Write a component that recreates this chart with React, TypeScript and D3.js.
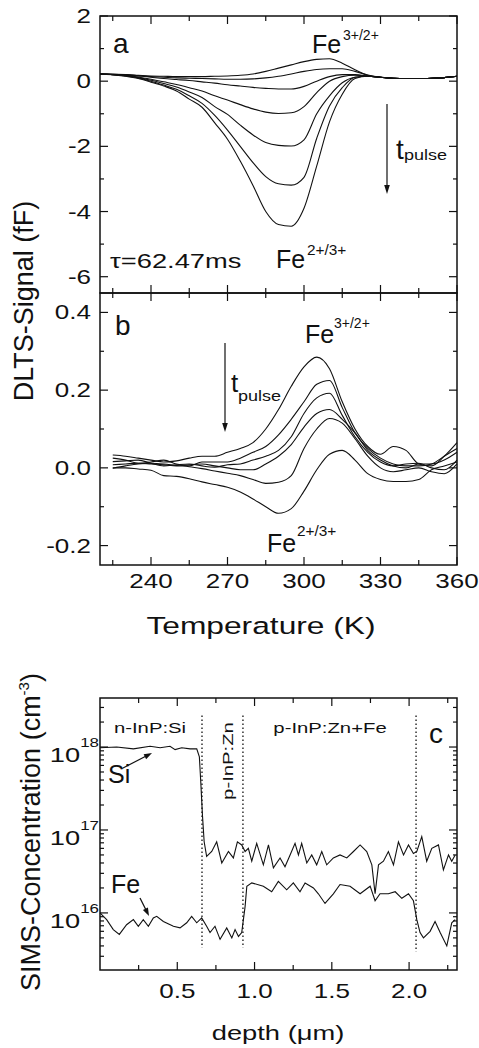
import React from 'react';
import * as d3 from 'd3';

const FONT = "'Liberation Sans', Arial, Helvetica, sans-serif";
const INK = '#111';

// ---------- Panel a : DLTS signal (fF) vs temperature ----------
const tempA = [220, 225, 230, 235, 240, 245, 250, 255, 260, 265, 270, 275, 280, 285, 290, 295, 300, 305, 310, 315, 320, 325, 330, 335, 340, 345, 350, 355, 360];
const sigA1 = [0.22, 0.21, 0.2, 0.18, 0.16, 0.15, 0.14, 0.14, 0.14, 0.15, 0.16, 0.18, 0.22, 0.3, 0.4, 0.5, 0.6, 0.67, 0.69, 0.55, 0.35, 0.18, 0.12, 0.09, 0.08, 0.08, 0.09, 0.11, 0.15];
const sigA2 = [0.22, 0.21, 0.2, 0.17, 0.14, 0.12, 0.1, 0.09, 0.08, 0.07, 0.06, 0.06, 0.07, 0.1, 0.15, 0.22, 0.3, 0.36, 0.38, 0.38, 0.3, 0.19, 0.12, 0.09, 0.08, 0.08, 0.09, 0.11, 0.15];
const sigA3 = [0.22, 0.21, 0.19, 0.16, 0.12, 0.08, 0.05, 0.02, -0.02, -0.06, -0.11, -0.15, -0.19, -0.22, -0.24, -0.24, -0.16, 0.0, 0.14, 0.2, 0.2, 0.16, 0.12, 0.09, 0.08, 0.08, 0.09, 0.11, 0.15];
const sigA4 = [0.22, 0.2, 0.18, 0.13, 0.06, -0.02, -0.1, -0.2, -0.3, -0.45, -0.58, -0.72, -0.85, -0.95, -0.99, -0.97, -0.78, -0.35, 0.0, 0.14, 0.18, 0.16, 0.12, 0.09, 0.08, 0.08, 0.09, 0.11, 0.15];
const sigA5 = [0.22, 0.2, 0.17, 0.11, 0.03, -0.07, -0.18, -0.33, -0.5, -0.78, -1.02, -1.35, -1.65, -1.88, -1.97, -1.99, -1.8, -1.0, -0.45, -0.05, 0.12, 0.15, 0.12, 0.09, 0.08, 0.08, 0.09, 0.11, 0.15];
const sigA6 = [0.22, 0.2, 0.16, 0.1, 0.0, -0.12, -0.25, -0.45, -0.68, -1.05, -1.5, -2.0, -2.5, -2.93, -3.15, -3.19, -2.95, -1.75, -0.76, -0.2, 0.12, 0.15, 0.12, 0.09, 0.08, 0.08, 0.09, 0.11, 0.15];
const sigA7 = [0.22, 0.2, 0.15, 0.08, -0.03, -0.15, -0.3, -0.55, -0.8, -1.28, -1.78, -2.45, -3.2, -4.0, -4.4, -4.45, -3.9, -2.6, -1.25, -0.4, 0.08, 0.15, 0.12, 0.09, 0.08, 0.08, 0.09, 0.11, 0.15];
const seriesA = [sigA1, sigA2, sigA3, sigA4, sigA5, sigA6, sigA7];
const tickLabelsA = [2, 0, -2, -4, -6];

// ---------- Panel b ----------
const tempB = [225, 230, 235, 240, 245, 250, 255, 260, 265, 270, 275, 280, 285, 290, 295, 300, 305, 310, 315, 320, 325, 330, 335, 340, 345, 350, 355, 360];
const sigB1 = [0.033, 0.03, 0.025, 0.02, 0.015, 0.018, 0.025, 0.03, 0.03, 0.04, 0.05, 0.065, 0.1, 0.15, 0.21, 0.26, 0.285, 0.255, 0.17, 0.1, 0.055, 0.035, 0.055, 0.045, 0.01, 0.005, 0.03, 0.065];
const sigB2 = [0.025, 0.02, 0.012, 0.015, 0.02, 0.01, 0.005, 0.015, 0.015, 0.015, 0.025, 0.04, 0.055, 0.085, 0.125, 0.17, 0.215, 0.225, 0.155, 0.09, 0.05, 0.025, 0.01, 0.005, 0.005, 0.01, 0.03, 0.05];
const sigB3 = [0.016, 0.018, 0.02, 0.012, 0.005, 0.008, 0.01, 0.005, 0.002, 0.008, 0.01, 0.02, 0.03, 0.045, 0.08, 0.14, 0.18, 0.192, 0.135, 0.08, 0.04, 0.015, 0.005, 0.01, 0.012, 0.0, -0.005, 0.02];
const sigB4 = [0.008, 0.01, 0.012, 0.01, 0.008, 0.005, 0.008, 0.01, 0.005, 0.0, -0.005, -0.005, 0.01, 0.03, 0.06, 0.105, 0.14, 0.15, 0.125, 0.09, 0.045, 0.02, 0.005, 0.0, 0.01, 0.01, 0.02, 0.04];
const sigB5 = [-0.001, 0.005, 0.01, 0.012, 0.01, 0.006, 0.003, -0.002, -0.008, -0.014, -0.02, -0.03, -0.04, -0.037, -0.02, 0.05, 0.1, 0.127, 0.115, 0.075, 0.03, 0.0, -0.01, -0.005, 0.0, -0.01, -0.015, 0.01];
const sigB6 = [0.0, 0.0, -0.003, -0.006, -0.02, -0.022, -0.028, -0.036, -0.043, -0.05, -0.062, -0.08, -0.1, -0.117, -0.105, -0.06, -0.005, 0.035, 0.045, 0.02, -0.015, -0.03, -0.035, -0.035, -0.03, -0.005, 0.005, 0.015];
const seriesB = [sigB1, sigB2, sigB3, sigB4, sigB5, sigB6];
const tickLabelsB = [0.4, 0.2, 0.0, -0.2];
const tickLabelsT = [240, 270, 300, 330, 360];

// ---------- Panel c : SIMS depth profile ----------
const depthSi = [0, 0.108, 0.216, 0.324, 0.389, 0.453, 0.486, 0.529, 0.583, 0.626, 0.643, 0.652, 0.663, 0.674, 0.69, 0.723, 0.755, 0.788, 0.831, 0.863, 0.889, 0.917, 0.939, 0.96, 0.982, 1.014, 1.057, 1.09, 1.122, 1.165, 1.197, 1.23, 1.262, 1.284, 1.305, 1.338, 1.37, 1.402, 1.435, 1.467, 1.51, 1.553, 1.597, 1.64, 1.683, 1.726, 1.759, 1.78, 1.802, 1.834, 1.866, 1.899, 1.931, 1.964, 1.996, 2.028, 2.05, 2.082, 2.114, 2.147, 2.19, 2.222, 2.255, 2.276, 2.298];
const concSi = [9.8e17, 1.0e18, 9.5e17, 1.02e18, 9.8e17, 1.02e18, 9.3e17, 9.8e17, 9.5e17, 9.5e17, 7.6e17, 3.8e17, 1.5e17, 7.2e16, 4.8e16, 5.5e16, 7.2e16, 4.0e16, 5.5e16, 4.6e16, 7.2e16, 6.6e16, 5.5e16, 6.0e16, 4.2e16, 6.9e16, 3.8e16, 6.6e16, 3.5e16, 4.6e16, 3.6e16, 5.0e16, 6.9e16, 5.0e16, 6.9e16, 4.0e16, 5.0e16, 3.8e16, 5.5e16, 3.8e16, 4.6e16, 5.0e16, 4.6e16, 5.5e16, 6.6e16, 5.5e16, 3.8e16, 1.7e16, 3.8e16, 4.2e16, 5.5e16, 3.8e16, 7.2e16, 5.0e16, 6.6e16, 5.2e16, 5.5e16, 8.3e16, 4.2e16, 6.0e16, 6.6e16, 3.3e16, 5.0e16, 4.2e16, 5.0e16];
const depthFe = [0, 0.043, 0.086, 0.125, 0.172, 0.216, 0.248, 0.28, 0.313, 0.345, 0.367, 0.41, 0.475, 0.518, 0.561, 0.593, 0.626, 0.658, 0.69, 0.712, 0.744, 0.777, 0.82, 0.853, 0.874, 0.896, 0.917, 0.939, 0.95, 0.982, 1.057, 1.111, 1.154, 1.208, 1.251, 1.294, 1.327, 1.381, 1.413, 1.456, 1.51, 1.553, 1.618, 1.683, 1.748, 1.78, 1.812, 1.866, 1.91, 1.953, 1.996, 2.028, 2.05, 2.071, 2.093, 2.136, 2.168, 2.201, 2.244, 2.276, 2.298];
const concFe = [1.0e16, 8.3e15, 6.3e15, 5.5e15, 7.2e15, 8.3e15, 6.9e15, 8.3e15, 6.9e15, 8.7e15, 9.1e15, 7.9e15, 6.9e15, 6.6e15, 7.6e15, 9.1e15, 7.6e15, 8.7e15, 6.9e15, 5.8e15, 6.9e15, 4.8e15, 6.6e15, 5.0e15, 6.3e15, 5.2e15, 5.8e15, 1.2e16, 2.1e16, 2.3e16, 2.1e16, 1.8e16, 2.4e16, 1.9e16, 2.3e16, 1.8e16, 2.3e16, 2.0e16, 1.7e16, 1.3e16, 1.7e16, 2.2e16, 2.1e16, 1.7e16, 2.1e16, 1.4e16, 1.7e16, 1.7e16, 1.8e16, 1.5e16, 1.7e16, 1.4e16, 8.3e15, 5.8e15, 5.0e15, 6.0e15, 7.9e15, 5.8e15, 4.0e15, 7.6e15, 8.3e15];
const layerBounds = [0.66, 0.925, 2.045];
const depthTickLabels = [0.5, 1.0, 1.5, 2.0];
const decadeExponents = [16, 17, 18];

// ---------- geometry ----------
const L = 100, R = 457;
const xT = d3.scaleLinear().domain([220, 360]).range([L, R]);
const yA = d3.scaleLinear().domain([-6.5, 2]).range([293, 16]);
const yB = d3.scaleLinear().domain([-0.25, 0.45]).range([565, 293]);
const xD = d3.scaleLinear().domain([0, 2.31]).range([L, R]);
const yC = d3.scaleLog().domain([2.05e15, 3.9e18]).range([970, 698]);

function Txt({ x, y, size, sx = 1, anchor = 'start', rot = 0, children }: any) {
  return (
    <text transform={`translate(${x},${y}) rotate(${rot}) scale(${sx},1)`} fontSize={size}
      textAnchor={anchor} fontFamily={FONT} fill={INK}>{children}</text>
  );
}

function Arrow({ x1, y1, x2, y2, head = 9, half = 2.8 }: any) {
  const dx = x2 - x1, dy = y2 - y1;
  const len = Math.hypot(dx, dy);
  const ux = dx / len, uy = dy / len;
  const bx = x2 - ux * head, by = y2 - uy * head;
  const px = -uy, py = ux;
  return (
    <g>
      <line x1={x1} y1={y1} x2={bx + ux * 2} y2={by + uy * 2} stroke={INK} strokeWidth={1.2} />
      <polygon points={`${x2},${y2} ${bx + px * half},${by + py * half} ${bx - px * half},${by - py * half}`} fill={INK} />
    </g>
  );
}

function VTicks({ scale, values, isMajor, top, bottom }: any) {
  return (
    <g stroke={INK} strokeWidth={1.2}>
      {values.map((v: number, i: number) => {
        const x = scale(v); const l = isMajor(v) ? 8 : 5;
        return (
          <g key={i}>
            {top !== undefined && <line x1={x} x2={x} y1={top} y2={top + l} />}
            {bottom !== undefined && <line x1={x} x2={x} y1={bottom} y2={bottom - l} />}
          </g>
        );
      })}
    </g>
  );
}

function HTicks({ scale, values, isMajor }: any) {
  return (
    <g stroke={INK} strokeWidth={1.2}>
      {values.map((v: number, i: number) => {
        const y = scale(v); const l = isMajor(v) ? 8 : 4;
        return (
          <g key={i}>
            <line x1={L} x2={L + l} y1={y} y2={y} />
            <line x1={R} x2={R - l} y1={y} y2={y} />
          </g>
        );
      })}
    </g>
  );
}

export default function App() {
  const lineA = d3.line<number>().x((_, i) => xT(tempA[i])).y(d => yA(d)).curve(d3.curveMonotoneX);
  const lineB = d3.line<number>().x((_, i) => xT(tempB[i])).y(d => yB(d)).curve(d3.curveMonotoneX);
  const lineSi = d3.line<number>().x((_, i) => xD(depthSi[i])).y(d => yC(d));
  const lineFe = d3.line<number>().x((_, i) => xD(depthFe[i])).y(d => yC(d));

  const tTicks = d3.range(225, 361, 15);
  const isMajorT = (v: number) => v % 30 === 0;
  const aTicks = d3.range(-6, 2.01, 1);
  const bTicks = d3.range(-2, 4.01, 1).map(v => v / 10);
  const dTicks = d3.range(1, 10).map(v => v * 0.25);
  const cTicks = yC.ticks();

  return (
    <svg width={479} height={1048} style={{ position: 'absolute', left: 0, top: 0, background: '#fff' }}>
      <rect x={0} y={0} width={479} height={1048} fill="#fff" />

      {/* ---------- panel a ---------- */}
      <g fill="none" stroke={INK} strokeWidth={1.1}>
        {seriesA.map((s, i) => <path key={i} d={lineA(s) || ''} />)}
      </g>
      <rect x={L} y={16} width={R - L} height={277} fill="none" stroke={INK} strokeWidth={1.5} />
      <HTicks scale={yA} values={aTicks} isMajor={(v: number) => v % 2 === 0} />
      <VTicks scale={xT} values={tTicks} isMajor={isMajorT} top={16} bottom={293} />
      {tickLabelsA.map(v => <Txt key={v} x={91} y={yA(v) + 7} size={20} sx={1.3} anchor="end">{String(v)}</Txt>)}
      <Txt x={113} y={53} size={28}>a</Txt>
      <Txt x={312} y={53} size={25}>Fe</Txt>
      <Txt x={343} y={40} size={14}>3+/2+</Txt>
      <Txt x={110} y={268} size={21} sx={1.3}>τ=62.47ms</Txt>
      <Txt x={276} y={268} size={25}>Fe</Txt>
      <Txt x={307} y={255} size={14} sx={1.1}>2+/3+</Txt>
      <Arrow x1={387} y1={104} x2={387} y2={194} />
      <Txt x={396} y={159} size={28}>t</Txt>
      <Txt x={404} y={160} size={15} sx={1.2}>pulse</Txt>

      {/* ---------- panel b ---------- */}
      <g fill="none" stroke={INK} strokeWidth={1.1}>
        {seriesB.map((s, i) => <path key={i} d={lineB(s) || ''} />)}
      </g>
      <rect x={L} y={293} width={R - L} height={272} fill="none" stroke={INK} strokeWidth={1.5} />
      <HTicks scale={yB} values={bTicks} isMajor={(v: number) => Math.round(v * 10) % 2 === 0} />
      <VTicks scale={xT} values={tTicks} isMajor={isMajorT} top={293} bottom={565} />
      {tickLabelsB.map(v => <Txt key={v} x={91} y={yB(v) + 7} size={20} sx={1.3} anchor="end">{v.toFixed(1)}</Txt>)}
      {tickLabelsT.map(v => <Txt key={v} x={xT(v)} y={588} size={20} sx={1.3} anchor="middle">{String(v)}</Txt>)}
      <Txt x={115} y={335} size={28}>b</Txt>
      <Txt x={305} y={343} size={25}>Fe</Txt>
      <Txt x={334} y={328} size={14}>3+/2+</Txt>
      <Arrow x1={225} y1={343} x2={225} y2={432} />
      <Txt x={231} y={392} size={26}>t</Txt>
      <Txt x={238} y={401} size={15} sx={1.2}>pulse</Txt>
      <Txt x={267} y={552} size={25}>Fe</Txt>
      <Txt x={297} y={536} size={14} sx={1.1}>2+/3+</Txt>

      <Txt x={33} y={301} size={27} rot={-90} anchor="middle">DLTS-Signal (fF)</Txt>
      <Txt x={261} y={634} size={23.5} sx={1.35} anchor="middle">Temperature (K)</Txt>

      {/* ---------- panel c ---------- */}
      <g fill="none" stroke={INK} strokeWidth={1.3} strokeDasharray="1.5,2.5">
        {layerBounds.map((b, i) => (
          <line key={i} x1={xD(b)} x2={xD(b)} y1={yC(2.4e18)} y2={yC(i === 2 ? 3.4e15 : 3.8e15)} />
        ))}
      </g>
      <g fill="none" stroke={INK} strokeWidth={1.1}>
        <path d={lineSi(concSi) || ''} />
        <path d={lineFe(concFe) || ''} />
      </g>
      <rect x={L} y={698} width={R - L} height={272} fill="none" stroke={INK} strokeWidth={1.5} />
      <HTicks scale={yC} values={cTicks} isMajor={(v: number) => Math.abs(Math.log10(v) - Math.round(Math.log10(v))) < 1e-6} />
      <VTicks scale={xD} values={dTicks} isMajor={(v: number) => Math.abs(v * 2 - Math.round(v * 2)) < 1e-6} top={698} bottom={970} />
      {depthTickLabels.map(v => <Txt key={v} x={xD(v)} y={998} size={20} sx={1.3} anchor="middle">{v.toFixed(1)}</Txt>)}
      {decadeExponents.map(e => (
        <text key={e} transform={`translate(99,${yC(Math.pow(10, e)) + 15}) scale(1.3,1)`} fontSize={21}
          textAnchor="end" fontFamily={FONT} fill={INK}>10<tspan dy={-15} fontSize={13}>{String(e)}</tspan></text>
      ))}
      <Txt x={150} y={733} size={14.5} sx={1.4} anchor="middle">n-InP:Si</Txt>
      <Txt x={233} y={761} size={14.5} sx={1.4} rot={-90} anchor="middle">p-InP:Zn</Txt>
      <Txt x={330} y={733} size={14.5} sx={1.4} anchor="middle">p-InP:Zn+Fe</Txt>
      <Txt x={429} y={743} size={28}>c</Txt>
      <Txt x={108} y={783} size={25}>Si</Txt>
      <Arrow x1={123} y1={768} x2={152} y2={753} head={8} half={2.8} />
      <Txt x={111} y={893} size={25}>Fe</Txt>
      <Arrow x1={140} y1={898} x2={149} y2={916} head={8} half={2.8} />

      <text transform={`translate(40,832) rotate(-90)`} fontSize={27} textAnchor="middle" fontFamily={FONT} fill={INK}>
        SIMS-Concentration (cm<tspan dy={-11} fontSize={15}>-3</tspan><tspan dy={11}>)</tspan>
      </text>
      <Txt x={278} y={1040} size={21} sx={1.3} anchor="middle">depth (μm)</Txt>
    </svg>
  );
}
